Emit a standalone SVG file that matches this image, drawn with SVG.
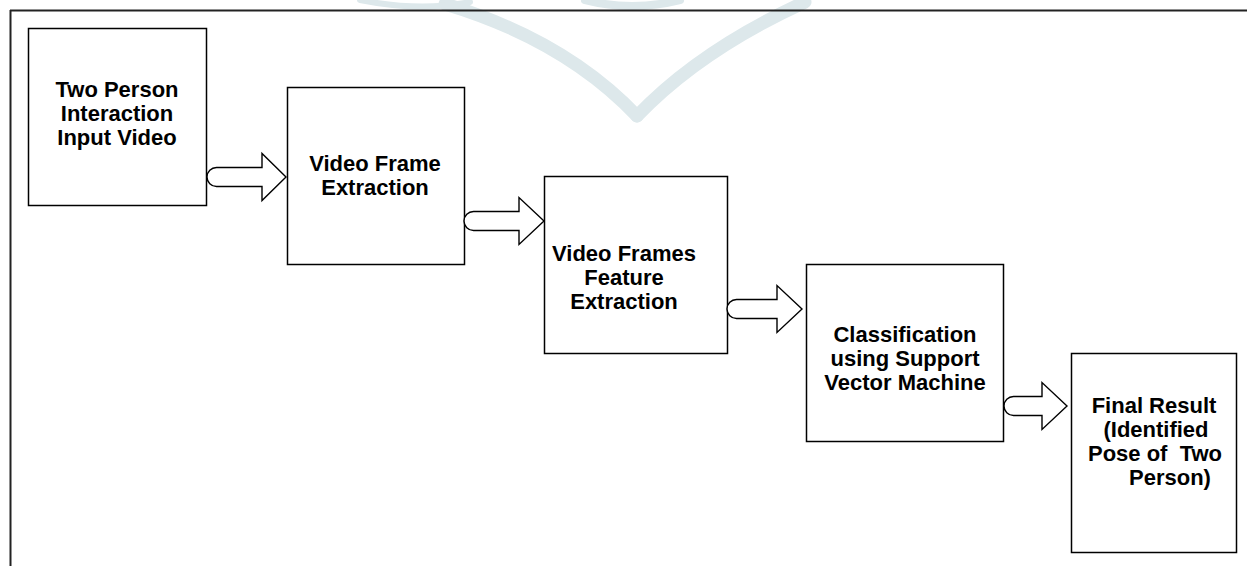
<svg xmlns="http://www.w3.org/2000/svg" width="1247" height="566" viewBox="0 0 1247 566">
  <style>
    .frame { stroke: #222; stroke-width: 2; fill: none; }
    .box { fill: none; stroke: #000; stroke-width: 1.5; }
    .arrow { fill: #fff; stroke: #000; stroke-width: 1.4; stroke-linejoin: miter; }
    .lbl { font-family: "Liberation Sans", Arial, sans-serif; font-weight: bold; font-size: 22px; fill: #000; text-anchor: middle; }
    .wm { fill: none; stroke: #dde8eb; stroke-linecap: round; }
  </style>
  <rect width="1247" height="566" fill="#fff"/>
  <g id="watermark">
    <path class="wm" stroke-width="13" d="M 445 4 Q 565 40 637 116"/>
    <path class="wm" stroke-width="13" d="M 805 2 Q 700 50 637 116"/>
    <path class="wm" stroke-width="8" d="M 585 0 Q 632 12 680 0"/>
    <path class="wm" stroke-width="6" d="M 360 0 Q 420 12 470 2"/>
  </g>
  <g id="frame">
    <line class="frame" x1="10" y1="10.5" x2="1247" y2="10.5"/>
    <line class="frame" x1="10.5" y1="10" x2="10.5" y2="566"/>
  </g>
  <g id="node-input">
    <rect class="box" x="28.5" y="28.5" width="178" height="177"/>
    <text class="lbl" x="117" y="97">Two Person</text>
    <text class="lbl" x="117" y="121">Interaction</text>
    <text class="lbl" x="117" y="145">Input Video</text>
  </g>
  <g id="node-frame-extraction">
    <rect class="box" x="287.5" y="87.5" width="177" height="177"/>
    <text class="lbl" x="375" y="171">Video Frame</text>
    <text class="lbl" x="375" y="195">Extraction</text>
  </g>
  <g id="node-feature-extraction">
    <rect class="box" x="544.5" y="176.5" width="183" height="177"/>
    <text class="lbl" x="624" y="261">Video Frames</text>
    <text class="lbl" x="624" y="285">Feature</text>
    <text class="lbl" x="624" y="309">Extraction</text>
  </g>
  <g id="node-classification">
    <rect class="box" x="806.5" y="264.5" width="197" height="177"/>
    <text class="lbl" x="905" y="342">Classification</text>
    <text class="lbl" x="905" y="366">using Support</text>
    <text class="lbl" x="905" y="390">Vector Machine</text>
  </g>
  <g id="node-result">
    <rect class="box" x="1071.5" y="353.5" width="165" height="199"/>
    <text class="lbl" x="1154" y="413">Final Result</text>
    <text class="lbl" x="1156" y="437">(Identified</text>
    <text class="lbl" x="1155" y="461" style="white-space:pre">Pose of  Two</text>
    <text class="lbl" x="1170" y="485">Person)</text>
  </g>
  <g id="connectors">
    <path class="arrow" d="M 216.5 167.5 H 262 V 153.5 L 286 177 L 262 200.5 V 186.5 H 216.5 A 9.5 9.5 0 0 1 216.5 167.5 Z"/>
    <path class="arrow" d="M 473.5 211.5 H 519 V 197.5 L 544 221 L 519 244.5 V 230.5 H 473.5 A 9.5 9.5 0 0 1 473.5 211.5 Z"/>
    <path class="arrow" d="M 736.5 299.5 H 777 V 285.5 L 802 309 L 777 332.5 V 318.5 H 736.5 A 9.5 9.5 0 0 1 736.5 299.5 Z"/>
    <path class="arrow" d="M 1013.5 396.5 H 1042 V 382.5 L 1067 406 L 1042 429.5 V 415.5 H 1013.5 A 9.5 9.5 0 0 1 1013.5 396.5 Z"/>
  </g>
</svg>
